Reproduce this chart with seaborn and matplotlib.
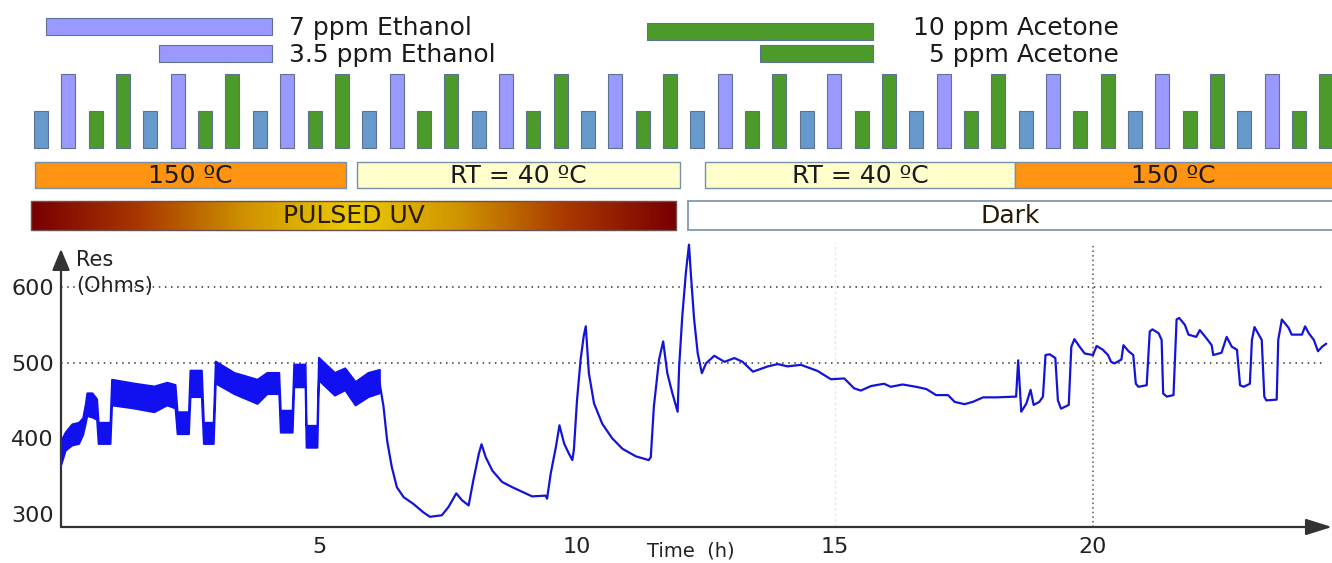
import numpy as np
import matplotlib
matplotlib.use("Agg")
import matplotlib.pyplot as plt
import seaborn as sns
from matplotlib.colors import LinearSegmentedColormap
from matplotlib.patches import Rectangle

# ---------------- data ----------------
# noisy first part (pulsed UV, 150 C): envelope of the noisy band
band_t = [0.00, 0.08, 0.21, 0.34, 0.42, 0.47, 0.50, 0.60, 0.69, 0.72, 0.95, 0.98, 1.40, 1.80, 2.05,
          2.21, 2.25, 2.47, 2.50, 2.72, 2.76, 2.95, 2.99, 3.35, 3.80, 3.99, 4.22, 4.25, 4.48,
          4.51, 4.73, 4.75, 4.96, 4.99, 5.30, 5.50, 5.70, 5.95, 6.17]
band_lo = [366, 384, 391, 393, 405, 420, 430, 428, 425, 393, 393, 444, 440, 435, 444,
           440, 406, 406, 455, 455, 393, 393, 473, 459, 446, 459, 459, 408, 408,
           468, 468, 388, 388, 477, 457, 464, 444, 455, 460]
band_hi = [397, 408, 419, 421, 427, 445, 460, 460, 452, 421, 421, 478, 473, 469, 474,
           471, 435, 435, 490, 490, 421, 421, 502, 487, 478, 487, 487, 437, 437,
           498, 498, 417, 417, 507, 487, 493, 475, 487, 491]

# smooth remainder of the trace
time_h = [6.17, 6.25, 6.32, 6.41, 6.51, 6.64, 6.83, 7.02, 7.15, 7.38, 7.51, 7.66, 7.77, 7.90,
          7.99, 8.10, 8.15, 8.23, 8.36, 8.55, 8.75, 8.94, 9.13, 9.39, 9.42, 9.49, 9.59, 9.66,
          9.75, 9.84, 9.91, 9.94, 10.00, 10.07, 10.13, 10.17, 10.23, 10.33, 10.49, 10.68,
          10.88, 11.14, 11.39, 11.43, 11.49, 11.59, 11.67, 11.75, 11.85, 11.95, 11.98, 12.04,
          12.11, 12.17, 12.21, 12.27, 12.34, 12.42, 12.50, 12.66, 12.86, 13.05, 13.21, 13.41,
          13.70, 13.89, 14.08, 14.34, 14.66, 14.92, 15.18, 15.37, 15.50, 15.70, 15.95, 16.08,
          16.31, 16.57, 16.77, 16.96, 17.19, 17.32, 17.51, 17.67, 17.87, 18.13, 18.51, 18.55,
          18.58, 18.61, 18.71, 18.79, 18.85, 18.96, 19.03, 19.08, 19.16, 19.27, 19.32, 19.38,
          19.53, 19.58, 19.64, 19.74, 19.84, 20.00, 20.07, 20.19, 20.29, 20.35, 20.42, 20.55,
          20.59, 20.69, 20.78, 20.83, 20.88, 21.04, 21.10, 21.15, 21.27, 21.33, 21.36, 21.43,
          21.56, 21.62, 21.67, 21.78, 21.85, 22.00, 22.07, 22.20, 22.30, 22.33, 22.49, 22.59,
          22.69, 22.79, 22.85, 22.92, 23.04, 23.08, 23.13, 23.27, 23.32, 23.36, 23.56, 23.59,
          23.66, 23.79, 23.85, 24.05, 24.11, 24.18, 24.28, 24.36, 24.44, 24.52]
res_ohm = [475, 442, 397, 362, 335, 322, 313, 302, 296, 298, 309, 327, 318, 311,
           344, 380, 392, 375, 357, 342, 335, 329, 323, 324, 320, 353, 388, 417,
           393, 380, 371, 385, 450, 504, 535, 548, 486, 446, 419, 400,
           386, 376, 371, 375, 442, 504, 528, 486, 459, 435, 495, 561,
           619, 656, 614, 557, 512, 486, 499, 509, 501, 506, 501, 488,
           495, 498, 495, 497, 489, 478, 479, 466, 463, 469, 472, 468,
           471, 468, 465, 457, 457, 448, 445, 448, 454, 454, 455, 503,
           470, 435, 446, 464, 444, 448, 455, 510, 511, 506, 450, 439,
           444, 521, 531, 521, 512, 510, 522, 517, 510, 501, 499, 504,
           523, 515, 510, 472, 468, 470, 541, 544, 539, 530, 459, 455,
           457, 557, 559, 550, 537, 534, 543, 532, 523, 510, 513, 534,
           521, 517, 470, 468, 472, 530, 547, 530, 455, 450, 451, 530,
           557, 546, 537, 537, 548, 539, 530, 515, 521, 525]

x_ticks = [5, 10, 15, 20]
y_ticks = [300, 400, 500, 600]
grid_y = [500, 600]

# gas pulse schedule (repeating cycle)
pulse_gas_cycle = ["Ethanol", "Ethanol", "Acetone", "Acetone"]
pulse_conc_cycle = [3.5, 7, 5, 10]
n_cycles = 12

# legend of concentrations
legend_gas = ["Ethanol", "Ethanol", "Acetone", "Acetone"]
legend_conc = [7, 3.5, 10, 5]
legend_text = ["7 ppm Ethanol", "3.5 ppm Ethanol", "10 ppm Acetone", "5 ppm Acetone"]

# temperature phases (hours)
temp_labels = ["150 ºC", "RT = 40 ºC", "RT = 40 ºC", "150 ºC"]
temp_start = [-0.50, 5.74, 12.48, 18.49]
temp_end = [5.52, 12.00, 18.49, 25.0]

# illumination phases (hours)
uv_labels = ["PULSED UV", "Dark"]
uv_start = [-0.58, 12.15]
uv_end = [11.92, 25.0]

# ---------------- figure ----------------
sns.set_theme(style="white")
plt.rcParams["font.family"] = ["DejaVu Sans"]

W, H = 1332, 563
X0 = 61.0          # px of t = 0
PXH = 51.6         # px per hour
t_left = -X0 / PXH
t_right = (W - X0) / PXH

fig = plt.figure(figsize=(W / 100, H / 100), dpi=100)

# ---- main axes ----
ax = fig.add_axes([X0 / W, 1 - 527 / H, 1 - X0 / W, (527 - 243) / H])
ax.set_xlim(0, t_right)
ax.set_ylim(282.5, 658.2)
for s in ax.spines.values():
    s.set_visible(False)

blue = "#1414d8"
ax.fill_between(band_t, band_lo, band_hi, color="#1010f0", lw=1.4, edgecolor="#1010f0", zorder=3)
sns.lineplot(x=time_h, y=res_ohm, ax=ax, color=blue, lw=1.6, estimator=None, sort=False, zorder=3)

for g in grid_y:
    ax.axhline(g, xmax=0.992, color="#333333", lw=1.1, ls=(0, (1, 3)), zorder=1)
ax.axvline(20, color="#555555", lw=1.1, ls=(0, (1, 2)), zorder=1)
ax.axvline(15, color="#e6e6e6", lw=1.0, ls=(0, (2, 2)), zorder=1)

ax.set_xticks(x_ticks)
ax.set_yticks(y_ticks)
ax.set_xticklabels([str(v) for v in x_ticks])
ax.set_yticklabels([str(v) for v in y_ticks])
ax.tick_params(axis="both", length=0, labelsize=16, colors="#222222")
ax.tick_params(axis="x", pad=7)
ax.tick_params(axis="y", pad=5)
ax.set_xlabel("")
ax.set_ylabel("")
fig.text(691 / W, 1 - 551 / H, "Time  (h)", fontsize=14, color="#222222",
         ha="center", va="center")

ax.text(0.0118, 0.94, "Res", transform=ax.transAxes, fontsize=15, color="#222222",
        ha="left", va="center")
ax.text(0.0118, 0.85, "(Ohms)", transform=ax.transAxes, fontsize=15, color="#222222",
        ha="left", va="center")

# axis arrows
ax.annotate("", xy=(1.0, 0), xytext=(0, 0), xycoords="axes fraction",
            arrowprops=dict(arrowstyle="-|>,head_length=0.8,head_width=0.25",
                            mutation_scale=20, color="#333333", lw=1.6,
                            shrinkA=0, shrinkB=0))
ax.annotate("", xy=(0, 0.979), xytext=(0, 0), xycoords="axes fraction",
            arrowprops=dict(arrowstyle="-|>,head_length=0.65,head_width=0.27",
                            mutation_scale=20, color="#333333", lw=1.6,
                            shrinkA=0, shrinkB=0))

# ---- top decoration axes (same time scale, pixel-like vertical scale) ----
axt = fig.add_axes([0, 1 - 240 / H, 1, 240 / H])
axt.set_xlim(t_left, t_right)
axt.set_ylim(240, 0)
axt.axis("off")

ethanol_col = "#9999ff"
ethanol_low_col = "#6699cc"
acetone_col = "#4c9a2a"
edge_col = "#5d7290"

# pulse bars
first_pulse_h = (41 - X0) / PXH
pulse_step_h = 27.35 / PXH
bar_w = 14 / PXH
tall_px, base_px = 74, 148
gases = pulse_gas_cycle * n_cycles
concs = pulse_conc_cycle * n_cycles
max_conc = {g: max(c for gg, c in zip(pulse_gas_cycle, pulse_conc_cycle) if gg == g)
            for g in set(pulse_gas_cycle)}
for k, (g, c) in enumerate(zip(gases, concs)):
    if g == "Ethanol":
        col = ethanol_col if c == max_conc[g] else ethanol_low_col
    else:
        col = acetone_col
    hgt = (base_px - tall_px) * c / max_conc[g]
    axt.bar(first_pulse_h + k * pulse_step_h, -hgt, bottom=base_px, width=bar_w,
            color=col, edgecolor=edge_col, lw=0.8)

# concentration legend bars
leg_right = {"Ethanol": (272 - X0) / PXH, "Acetone": (873 - X0) / PXH}
leg_full = 226 / PXH
leg_rows = [26.5, 53.5, 31.5, 53.5]
text_rows = [28, 55, 28, 55]
leg_max = {"Ethanol": 7, "Acetone": 10}
for g, c, txt, yrow, ytxt in zip(legend_gas, legend_conc, legend_text, leg_rows, text_rows):
    length = leg_full * c / leg_max[g]
    col = ethanol_col if g == "Ethanol" else acetone_col
    axt.barh(yrow, length, left=leg_right[g] - length, height=17, color=col,
             edgecolor=edge_col, lw=0.8)
    if g == "Ethanol":
        axt.text(leg_right[g] + 17 / PXH, ytxt, txt, fontsize=18, ha="left",
                 va="center", color="#1a1a1a")
    else:
        axt.text(leg_right[g] + 246 / PXH, ytxt, txt, fontsize=18, ha="right",
                 va="center", color="#1a1a1a")

# temperature row
for lab, s, e in zip(temp_labels, temp_start, temp_end):
    col = "#ff9312" if "150" in lab else "#ffffcc"
    axt.barh(175, e - s, left=s, height=26, color=col, edgecolor="#7790a8", lw=1.0)
    xc = (s + min(e, t_right)) / 2
    axt.text(xc, 176, lab, fontsize=18, ha="center", va="center", color="#1a1a1a")

# illumination row
uv_cmap = LinearSegmentedColormap.from_list(
    "uv", ["#780000", "#a83800", "#cf9300", "#ebcb00", "#cf9300", "#a83800", "#780000"])
grad = np.linspace(0, 1, 400)[np.newaxis, :]
for lab, s, e in zip(uv_labels, uv_start, uv_end):
    if lab == "Dark":
        axt.add_patch(Rectangle((s, 201), e - s, 29, facecolor="white",
                                edgecolor="#7790a8", lw=1.2))
    else:
        axt.imshow(grad, extent=(s, e, 230, 201), aspect="auto", cmap=uv_cmap, zorder=1)
        axt.add_patch(Rectangle((s, 201), e - s, 29, facecolor="none",
                                edgecolor="#6a5050", lw=1.0, zorder=2))
    xc = (s + min(e, t_right)) / 2
    axt.text(xc, 216, lab, fontsize=18, ha="center", va="center", color="#2a1a05", zorder=3)

axt.set_xlim(t_left, t_right)
axt.set_ylim(240, 0)

fig.savefig("out.png", dpi=100)
